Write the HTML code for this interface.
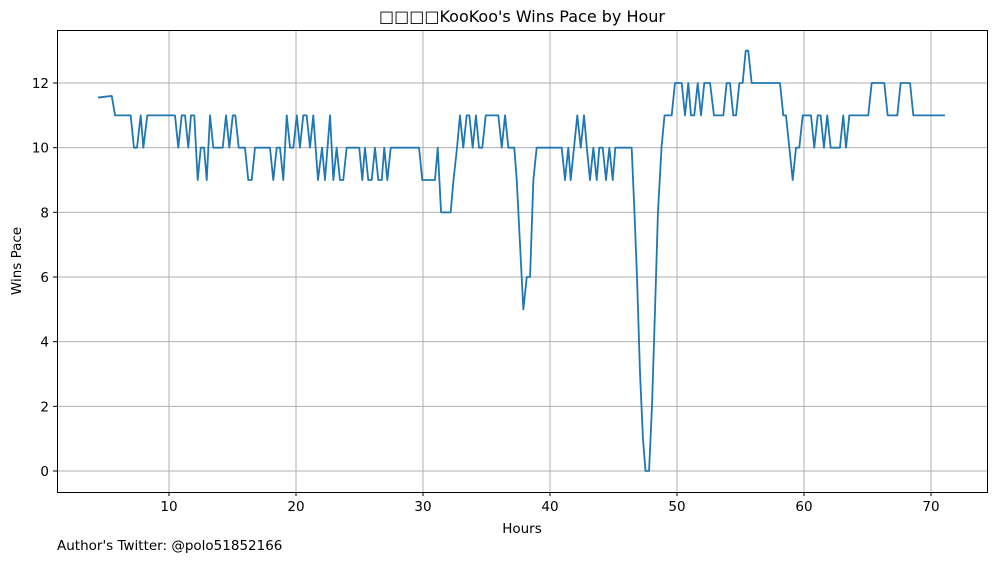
<!DOCTYPE html>
<html><head><meta charset="utf-8"><style>
body{margin:0;background:#fff;}
svg text{font-family:"DejaVu Sans","Liberation Sans",sans-serif;fill:#000;}
</style></head><body>
<svg id="chart" width="997" height="562" viewBox="0 0 997 562" xmlns="http://www.w3.org/2000/svg">
<rect width="997" height="562" fill="#fff"/>
<g id="grid"></g>
<g id="ticks"></g>
<path id="line" fill="none" stroke="#1f77b4" stroke-width="1.8" stroke-linejoin="round"/>
<rect x="57.5" y="30.5" width="930" height="462" fill="none" stroke="#000" stroke-width="1"/>
<text x="522" y="22" font-size="16" text-anchor="middle">□□□□KooKoo's Wins Pace by Hour</text>
<text x="522" y="533" font-size="13.5" text-anchor="middle">Hours</text>
<text x="21" y="261" font-size="13.5" text-anchor="middle" transform="rotate(-90 21 261)">Wins Pace</text>
<text x="57" y="550" font-size="13.5">Author's Twitter: @polo51852166</text>
</svg>
<script>
const hours=[4.41,5.49,5.75,6.98,7.24,7.48,7.77,7.98,8.29,10.47,10.73,11.0,11.26,11.52,11.73,11.99,12.26,12.5,12.76,12.97,13.23,13.49,14.23,14.49,14.75,15.02,15.22,15.49,15.98,16.24,16.51,16.77,17.95,18.21,18.48,18.74,19.0,19.27,19.53,19.79,20.06,20.31,20.57,20.84,21.1,21.36,21.73,22.05,22.28,22.68,22.94,23.2,23.46,23.72,23.99,24.98,25.22,25.43,25.69,25.96,26.22,26.48,26.75,26.95,27.19,27.46,29.69,29.94,30.94,31.16,31.42,32.18,32.4,32.68,32.91,33.17,33.44,33.65,33.91,34.17,34.41,34.67,34.94,35.93,36.2,36.46,36.72,37.19,37.38,37.64,37.9,38.17,38.43,38.69,38.95,40.92,41.18,41.44,41.63,42.15,42.42,42.68,42.9,43.15,43.41,43.68,43.88,44.15,44.41,44.67,44.94,45.14,46.43,46.65,46.85,47.09,47.32,47.52,47.8,48.03,48.27,48.5,48.78,49.02,49.58,49.84,50.37,50.63,50.89,51.1,51.36,51.63,51.89,52.15,52.6,52.91,53.65,53.91,54.17,54.43,54.65,54.91,55.17,55.41,55.61,55.88,58.11,58.37,58.58,59.11,59.37,59.63,59.9,60.55,60.81,61.08,61.31,61.57,61.83,62.1,62.83,63.09,63.31,63.57,65.06,65.33,66.32,66.59,67.35,67.61,68.35,68.61,71.1];
const pace=[11.55,11.6,11,11,10,10,11,10,11,11,10,11,11,10,11,11,9,10,10,9,11,10,10,11,10,11,11,10,10,9,9,10,10,9,10,10,9,11,10,10,11,10,11,11,10,11,9,10,9,11,9,10,9,9,10,10,9,10,9,9,10,9,9,10,9,10,10,9,9,10,8,8,9,10,11,10,11,11,10,11,10,10,11,11,10,11,10,10,9,7,5,6,6,9,10,10,9,10,9,11,10,11,10,9,10,9,10,10,9,10,9,10,10,8,6,3,1,0,0,2,5,8,10,11,11,12,12,11,12,11,11,12,11,12,12,11,11,12,12,11,11,12,12,13,13,12,12,11,11,9,10,10,11,11,10,11,11,10,11,10,10,11,10,11,11,12,12,11,11,12,12,11,11];
const xTicks=[10,20,30,40,50,60,70];
const yTicks=[0,2,4,6,8,10,12];
const X0=57,X1=987,Y0=30,Y1=492,xmin=1.18,xmax=74.41,ymin=-0.65,ymax=13.64;
const xs=v=>X0+(v-xmin)/(xmax-xmin)*(X1-X0);
const ys=v=>Y1-(v-ymin)/(ymax-ymin)*(Y1-Y0);
const NS='http://www.w3.org/2000/svg';
const grid=document.getElementById('grid'),ticks=document.getElementById('ticks');
function mk(tag,attrs,parent){const e=document.createElementNS(NS,tag);for(const k in attrs)e.setAttribute(k,attrs[k]);parent.appendChild(e);return e;}
xTicks.forEach(t=>{const x=xs(t);
 const g=mk('line',{x1:x,x2:x,y1:Y0,y2:Y1,stroke:'#b0b0b0','stroke-width':1},grid);
 
 
 const tk=mk('line',{x1:x,x2:x,y1:Y1,y2:Y1+4,stroke:'#000'},ticks);
 
 
 const tx=mk('text',{x:x,y:Y1+19,'font-size':13.5,'text-anchor':'middle'},ticks);tx.textContent=t;
 
 
});
yTicks.forEach(t=>{const y=ys(t);
 const g=mk('line',{x1:X0,x2:X1,y1:y,y2:y,stroke:'#b0b0b0','stroke-width':1},grid);
 
 
 const tk=mk('line',{x1:X0-4,x2:X0,y1:y,y2:y,stroke:'#000'},ticks);
 
 
 const tx=mk('text',{x:X0-8,y:y+5,'font-size':13.5,'text-anchor':'end'},ticks);tx.textContent=t;
 
 
});
document.getElementById('line').setAttribute('d',hours.map((h,i)=>(i?'L':'M')+xs(h).toFixed(2)+','+ys(pace[i]).toFixed(2)).join(''));
</script>
</body></html>
